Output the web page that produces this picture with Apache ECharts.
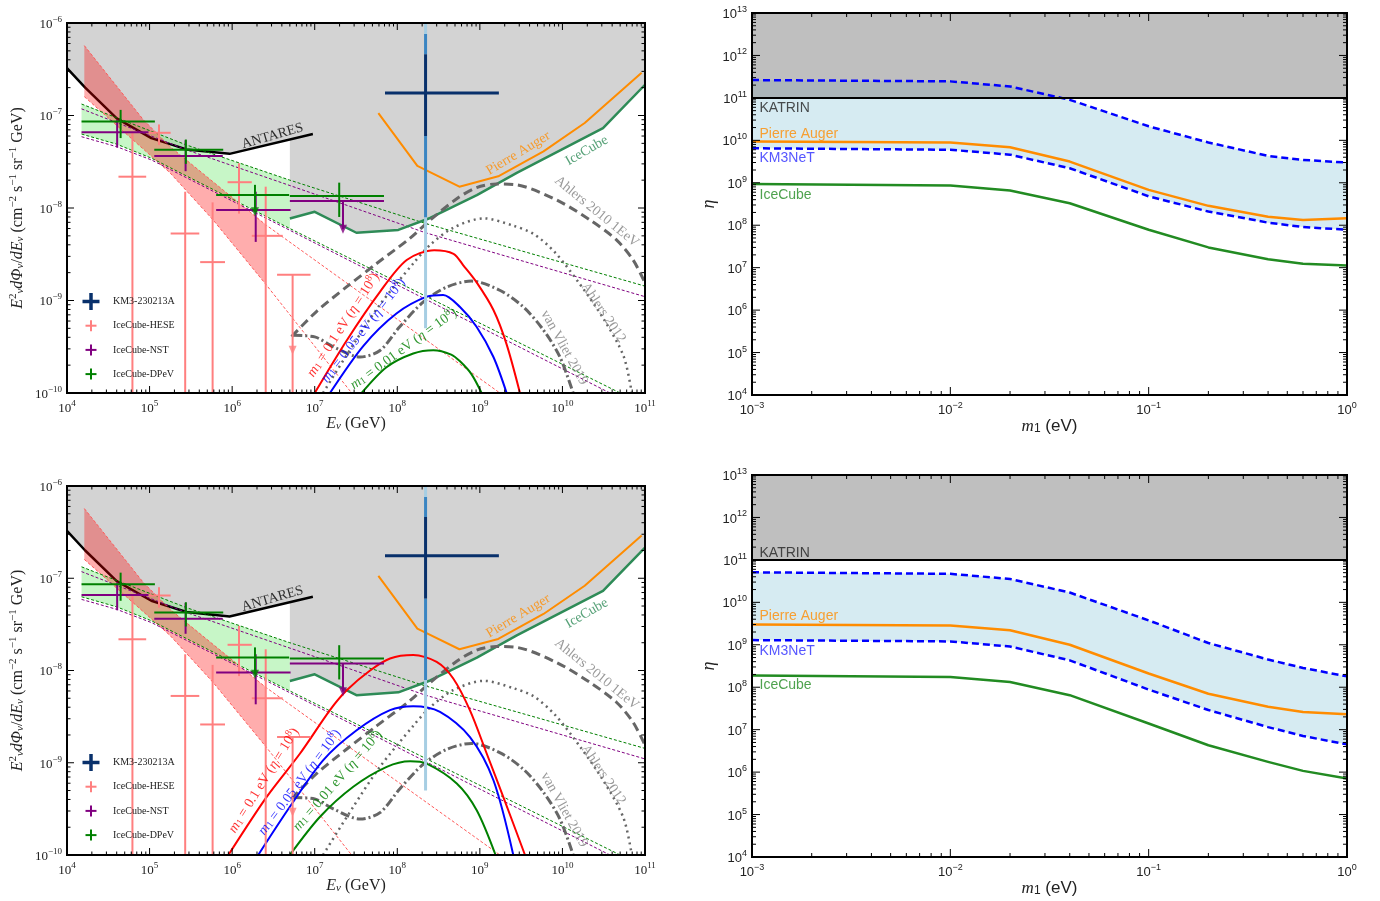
<!DOCTYPE html>
<html>
<head>
<meta charset="utf-8">
<title>Neutrino flux limits</title>
<script src="https://cdn.jsdelivr.net/npm/echarts@6/dist/echarts.min.js"></script>
<style>
html,body{margin:0;padding:0;background:#ffffff;}
#chart{width:1380px;height:901px;}
</style>
</head>
<body>
<div id="chart"></div>
<script>
// ================= DATA =================
// ---- Left panels: E_nu [GeV]  vs  E^2 dPhi/dE [cm^-2 s^-1 sr^-1 GeV]
const antares = [[1e4,3.26e-7],[1.66e4,2.0e-7],[4.0e4,9.3e-8],[1.05e5,5.7e-8],[2.8e5,4.3e-8],[9.3e5,3.85e-8],[9.5e6,6.3e-8]];
const antaresCut = [5e6,5.5e-8];
const icecubeLim = [[5e6,7.7e-9],[1e7,9.1e-9],[3.2e7,5.4e-9],[1.03e8,5.8e-9],[2.5e8,7.8e-9],[9.2e8,1.38e-8],[2.8e9,2.4e-8],[3.1e10,7.3e-8],[1e11,2.15e-7]];
const augerLim = [[5.9e7,1.06e-7],[1.75e8,2.85e-8],[5.65e8,1.7e-8],[1.67e9,2.2e-8],[5.9e9,4.1e-8],[1.86e10,8.3e-8],[9.1e10,2.9e-7]];

const dpevUpper = [[1.5e4,1.33e-7],[2.8e5,4.8e-8],[5e6,2.0e-8],[8.8e6,1.7e-8],[2.2e8,6.8e-9],[1e11,1.43e-9]];
const dpevLower = [[1.5e4,6.3e-8],[4e4,4.9e-8],[1.06e5,3.45e-8],[5e6,6.0e-9],[5e10,1.0e-10]];
const nstUpper = [[1.5e4,1.18e-7],[2.8e5,4.25e-8],[8.8e6,1.47e-8],[2.2e8,5.4e-9],[1e11,1.1e-9]];
const nstLower = [[1.5e4,5.9e-8],[4e4,4.6e-8],[1.06e5,3.3e-8],[3.76e10,1.0e-10]];
const heseUpper = [[1.62e4,5.7e-7],[8.4e4,9.0e-8],[1.77e5,4.6e-8],[2.17e6,7.4e-9],[2.6e6,6.5e-9],[1.75e9,1.0e-10]];
const heseLower = [[1.62e4,1.6e-7],[1.77e5,2.4e-8],[5.9e5,7.4e-9],[2.6e6,1.47e-9],[2.8e7,1.0e-10]];

// error crosses: [E, flux, Elow, Ehigh, fluxLow, fluxHigh]
const hesePts = [
  [6.2e4,2.18e-8,4.2e4,9.1e4,1e-10,6.5e-8],
  [1.3e5,6.5e-8,9.7e4,1.8e5,4.8e-8,8.0e-8],
  [2.7e5,5.3e-9,1.8e5,4.0e5,1e-10,1.5e-8],
  [5.8e5,2.6e-9,4.1e5,8.2e5,1e-10,1.15e-8],
  [1.21e6,1.9e-8,8.8e5,1.73e6,8.7e-9,3.05e-8],
  [2.55e6,5.0e-9,1.73e6,4.1e6,1e-10,1.7e-8],
  [5.4e6,1.9e-9,3.5e6,8.9e6,1e-10,1.9e-9]
];
const heseArrows = [[5.4e6,2.9e-10]];
const nstPts = [
  [4.05e4,6.6e-8,1.5e4,9.7e4,4.5e-8,9.0e-8],
  [2.73e5,3.65e-8,1.14e5,7.7e5,2.5e-8,5.4e-8],
  [1.93e6,9.5e-9,6.4e5,5.1e6,4.3e-9,1.5e-8],
  [2.2e7,1.19e-8,5e6,6.9e7,5.9e-9,1.19e-8]
];
const nstArrows = [[2.2e7,5.9e-9]];
const dpevPts = [
  [4.46e4,8.6e-8,1.5e4,1.16e5,5.7e-8,1.15e-7],
  [2.75e5,4.25e-8,1.14e5,7.8e5,3.0e-8,5.5e-8],
  [1.89e6,1.38e-8,6.4e5,4.9e6,9.1e-9,1.78e-8],
  [1.98e7,1.35e-8,5e6,6.9e7,8.0e-9,1.88e-8]
];
const dpevArrows = [[1.89e6,9.1e-9]];
const km3Point = [2.2e8,1.75e-7,7.1e7,1.7e9];
const km3Segments = [[1e-6,7.6e-7],[7.6e-7,4.6e-7],[4.6e-7,6.0e-8],[6.0e-8,7.9e-9],[7.9e-9,5.0e-10]];

const ahlers2010 = [[5.25e6,4.07e-10],[1.05e7,7.6e-10],[2.45e7,1.41e-9],[5.62e7,2.51e-9],[1.41e8,4.68e-9],[2.51e8,7.41e-9],[5.25e8,1.26e-8],[9.12e8,1.66e-8],[1.58e9,1.82e-8],[2.79e9,1.78e-8],[8.5e9,1.22e-8],[2.16e10,7.41e-9],[4.54e10,4.5e-9],[7.2e10,2.73e-9],[1e11,1.55e-9]];
const ahlers2012 = [[1.26e7,1.0e-10],[2.93e7,3.33e-10],[6.17e7,9.04e-10],[1.56e8,2.51e-9],[2.49e8,3.98e-9],[4.76e8,6.12e-9],[1.12e9,7.73e-9],[2.51e9,6.46e-9],[4.47e9,5.25e-9],[8.13e9,3.31e-9],[1.62e10,1.51e-9],[3.16e10,6.31e-10],[5.5e10,2.51e-10],[6.92e10,1.0e-10]];
const vanVliet = [[5.5e6,4.2e-10],[1e7,4.04e-10],[1.68e7,3.16e-10],[3.55e7,2.45e-10],[6.17e7,2.88e-10],[1.07e8,5.2e-10],[2.07e8,9.66e-10],[3.98e8,1.4e-9],[7.94e8,1.62e-9],[1.74e9,1.29e-9],[3.37e9,8.5e-10],[5.89e9,4.79e-10],[9.33e9,2.45e-10],[1.35e10,1.0e-10]];

// model curves, top panel
const redTop = [[1e7,1.0e-10],[2.44e7,3.7e-10],[6.17e7,1.24e-9],[1.3e8,2.74e-9],[2.8e8,3.5e-9],[4.8e8,3.2e-9],[6.3e8,2.4e-9],[9.1e8,1.58e-9],[1.46e9,7.9e-10],[2.1e9,3.4e-10],[3.06e9,1.0e-10]];
const blueTop = [[1.53e7,1.0e-10],[3.89e7,3.24e-10],[9.77e7,7.24e-10],[2.27e8,1.1e-9],[3.6e8,1.15e-9],[5.75e8,8.5e-10],[9.12e8,5.2e-10],[1.46e9,2.45e-10],[2.11e9,1.0e-10]];
const greenTop = [[3.7e7,1.0e-10],[7.4e7,1.9e-10],[1.56e8,2.67e-10],[2.73e8,2.9e-10],[4.5e8,2.6e-10],[5.75e8,2.2e-10],[7.9e8,1.6e-10],[1.05e9,1.0e-10]];
// model curves, bottom panel
const redBot = [[9e5,1.0e-10],[2.62e6,4.27e-10],[6.64e6,1.26e-9],[1.53e7,3.72e-9],[2.44e7,6.1e-9],[4.68e7,1.0e-8],[8.17e7,1.35e-8],[1.56e8,1.47e-8],[3.0e8,1.24e-8],[4.76e8,8.2e-9],[7.59e8,3.7e-9],[1.21e9,1.26e-9],[1.92e9,4.27e-10],[3.52e9,1.0e-10]];
const blueBot = [[2.07e6,1.0e-10],[5.0e6,3.33e-10],[1.27e7,1.07e-9],[3.22e7,2.25e-9],[8.17e7,3.72e-9],[1.56e8,4.1e-9],[3.29e8,3.56e-9],[7.59e8,1.9e-9],[1.46e9,6.46e-10],[2.54e9,1.0e-10]];
const greenBot = [[5.0e6,1.0e-10],[1.16e7,2.6e-10],[2.93e7,5.5e-10],[7.45e7,9.04e-10],[1.43e8,1.04e-9],[2.27e8,9.8e-10],[5.25e8,5.97e-10],[9.16e8,3.06e-10],[1.55e9,1.0e-10]];

// ---- Right panels: m1 [eV] vs eta
const mVals   = [0.001, 0.01, 0.02, 0.04, 0.1, 0.2, 0.4, 0.6, 1];
const km3UpTop = [2.63e11, 2.45e11, 1.86e11, 9.0e10, 2.14e10, 8.9e9, 4.3e9, 3.45e9, 3.0e9];
const augerTop = [9.4e9, 8.9e9, 6.9e9, 3.16e9, 6.8e8, 2.86e8, 1.58e8, 1.33e8, 1.46e8];
const km3LoTop = [6.5e9, 6.0e9, 4.6e9, 2.2e9, 4.8e8, 2.1e8, 1.15e8, 9.1e7, 7.8e7];
const iceTop   = [9.4e8, 8.6e8, 6.6e8, 3.3e8, 7.8e7, 3.0e7, 1.58e7, 1.23e7, 1.12e7];
const km3UpBot = [5.1e10, 4.7e10, 3.55e10, 1.7e10, 3.76e9, 1.1e9, 4.5e8, 2.85e8, 1.8e8];
const augerBot = [3.0e9, 2.86e9, 2.2e9, 1.0e9, 2.1e8, 7.0e7, 3.47e7, 2.6e7, 2.3e7];
const km3LoBot = [1.29e9, 1.2e9, 9.1e8, 4.3e8, 8.8e7, 2.9e7, 1.15e7, 7.1e6, 4.5e6];
const iceBot   = [1.9e8, 1.74e8, 1.33e8, 6.5e7, 1.4e7, 4.3e6, 1.74e6, 1.07e6, 7.1e5];
const katrinEta = 1e11;

// axis decades
const leftXDec = [4, 11], leftYDec = [-10, -6];
const rightXDec = [-3, 0], rightYDec = [4, 13];

// ================= CHART =================
const FS = '"Liberation Serif","DejaVu Serif",serif';
const FN = '"Liberation Sans","DejaVu Sans",sans-serif';
const chart = echarts.init(document.getElementById('chart'), null, {renderer:'canvas', width:1380, height:901});
const series = [];

function expLabel(v){
  const e = Math.round(Math.log10(v));
  return '{b|10}{s|' + (e < 0 ? '\u2212' + (-e) : e) + '}';
}
function axisLab(font, size, margin){
  return {formatter: expLabel, fontFamily: font, fontSize: size, color:'#222', margin: margin,
    rich: {
      b: {fontFamily: font, fontSize: size, color:'#222', verticalAlign:'bottom'},
      s: {fontFamily: font, fontSize: Math.round(size*0.72), color:'#222', verticalAlign:'bottom', padding:[0,0,Math.round(size*0.5),0]}
    }};
}
function nameRich(font, size){
  return {
    n: {fontFamily: font, fontSize: size, color:'#222', verticalAlign:'bottom'},
    i: {fontFamily: FS, fontSize: size, fontStyle:'italic', color:'#222', verticalAlign:'bottom'},
    sb: {fontFamily: font, fontSize: Math.round(size*0.68), fontStyle:'italic', color:'#222', verticalAlign:'bottom'},
    sn: {fontFamily: font, fontSize: Math.round(size*0.68), color:'#222', verticalAlign:'bottom'},
    p: {fontFamily: font, fontSize: Math.round(size*0.68), color:'#222', verticalAlign:'bottom', padding:[0,0,Math.round(size*0.45),0]}
  };
}

function L(gi, data, color, width, type, z, smooth){
  series.push({type:'line', xAxisIndex:gi, yAxisIndex:gi, data:data, symbol:'none', showSymbol:false,
    silent:true, z:z, smooth: smooth || false, animation:false,
    lineStyle:{color:color, width:width, type:type || 'solid', cap:'butt', join:'round'}});
}
function poly(gi, pts, fill, z){
  series.push({type:'custom', xAxisIndex:gi, yAxisIndex:gi, z:z, silent:true, animation:false,
    data:[pts[0]],
    renderItem: function(params, api){
      return {type:'polygon', shape:{points: pts.map(function(p){ return api.coord(p); })}, style:{fill: fill}};
    }});
}
function crosses(gi, pts, color, lw, z){
  series.push({type:'custom', xAxisIndex:gi, yAxisIndex:gi, z:z, silent:true, animation:false,
    dimensions:['x','y','xl','xh','yl','yh'], encode:{x:0, y:1},
    data: pts,
    renderItem: function(params, api){
      const x = api.value(0), y = api.value(1);
      const a = api.coord([api.value(2), y]), b = api.coord([api.value(3), y]);
      const c = api.coord([x, api.value(4)]), d = api.coord([x, api.value(5)]);
      const st = {stroke: color, lineWidth: lw};
      return {type:'group', children:[
        {type:'line', shape:{x1:a[0], y1:a[1], x2:b[0], y2:b[1]}, style: st},
        {type:'line', shape:{x1:c[0], y1:c[1], x2:d[0], y2:d[1]}, style: st}
      ]};
    }});
}
function arrows(gi, pts, color, z){
  series.push({type:'scatter', xAxisIndex:gi, yAxisIndex:gi, z:z, silent:true, animation:false,
    data: pts, symbol:'triangle', symbolRotate:180, symbolSize:[8,9], itemStyle:{color: color}});
}
function labels(gi, items, font, z){
  series.push({type:'scatter', xAxisIndex:gi, yAxisIndex:gi, z:z, silent:true, animation:false,
    symbolSize:1, itemStyle:{color:'rgba(0,0,0,0)'},
    data: items.map(function(it){
      const fs = it.fs || 14;
      return {value: it.p, label:{show:true, formatter: it.t, position: it.pos || 'inside', distance: it.d || 0,
        rotate: it.r || 0, color: it.c, fontFamily: font, fontSize: fs, align: it.align,
        rich: {
          i:{fontFamily: FS, fontStyle:'italic', fontSize: fs, color: it.c, verticalAlign:'bottom'},
          n:{fontFamily: font, fontSize: fs, color: it.c, verticalAlign:'bottom'},
          s:{fontFamily: font, fontSize: 10, color: it.c, verticalAlign:'bottom'},
          p:{fontFamily: font, fontSize: 10, color: it.c, verticalAlign:'bottom', padding:[0,0,6,0]}
        }}};
    })});
}
function ticks(gi, xd, yd, majL, minL){
  const xmin = Math.pow(10, xd[0]), ymin = Math.pow(10, yd[0]);
  series.push({type:'custom', xAxisIndex:gi, yAxisIndex:gi, z:50, silent:true, animation:false,
    data:[[xmin, ymin]],
    renderItem: function(params, api){
      const cs = params.coordSys;
      const x0 = cs.x, y0 = cs.y, w = cs.width, h = cs.height;
      const ch = [];
      const st = {stroke:'#000', lineWidth:1};
      for (let d = xd[0]; d <= xd[1]; d++){
        for (let k = 1; k <= 9; k++){
          if (d === xd[1] && k > 1) break;
          const px = api.coord([k*Math.pow(10,d), ymin])[0];
          const l = k === 1 ? majL : minL;
          ch.push({type:'line', shape:{x1:px, y1:y0+h, x2:px, y2:y0+h-l}, style:st});
          ch.push({type:'line', shape:{x1:px, y1:y0, x2:px, y2:y0+l}, style:st});
        }
      }
      for (let d = yd[0]; d <= yd[1]; d++){
        for (let k = 1; k <= 9; k++){
          if (d === yd[1] && k > 1) break;
          const py = api.coord([xmin, k*Math.pow(10,d)])[1];
          const l = k === 1 ? majL : minL;
          ch.push({type:'line', shape:{x1:x0, y1:py, x2:x0+l, y2:py}, style:st});
          ch.push({type:'line', shape:{x1:x0+w, y1:py, x2:x0+w-l, y2:py}, style:st});
        }
      }
      ch.push({type:'rect', shape:{x:x0, y:y0, width:w, height:h}, style:{fill:'none', stroke:'#000', lineWidth:2}});
      return {type:'group', children: ch};
    }});
}

const mRich = function(mass){ return '{i|m}{s|1}{n| = ' + mass + ' eV (}{i|\u03b7}{n| = 10}{p|8}{n|)}'; };

function buildLeft(gi, redM, blueM, greenM, mlab){
  poly(gi, antares.slice(0,6).concat([antaresCut], icecubeLim, [[1e11,1e-6],[1e4,1e-6]]), '#d3d3d3', 1);
  poly(gi, dpevUpper.slice(0,3).concat(dpevLower.slice(0,4).reverse()), 'rgba(144,238,144,0.5)', 2);
  L(gi, antares, '#000000', 2.5, 'solid', 3);
  poly(gi, heseUpper.slice(0,5).concat(heseLower.slice(0,4).reverse()), 'rgba(255,0,0,0.32)', 4);
  L(gi, heseUpper, '#ff5a5a', 1, [3,2], 5);
  L(gi, heseLower, '#ff5a5a', 1, [3,2], 5);
  L(gi, dpevUpper, '#008000', 1, [3,2], 5);
  L(gi, dpevLower, '#008000', 1, [3,2], 5);
  L(gi, nstUpper, '#800080', 1, [3,2], 5);
  L(gi, nstLower, '#800080', 1, [3,2], 5);
  L(gi, icecubeLim, '#2e8b57', 2.5, 'solid', 6);
  L(gi, augerLim, '#ff8c00', 2, 'solid', 6);
  L(gi, ahlers2010, '#666666', 3, [9,5], 6, 0.3);
  L(gi, ahlers2012, '#666666', 2.5, [2,4], 6, 0.3);
  L(gi, vanVliet, '#666666', 3, [9,3,2,3], 6, 0.3);
  L(gi, redM, '#ff0000', 2, 'solid', 7, 0.3);
  L(gi, blueM, '#0000ff', 2, 'solid', 7, 0.3);
  L(gi, greenM, '#008000', 2, 'solid', 7, 0.3);
  crosses(gi, hesePts, '#ff7f7f', 2, 8);
  arrows(gi, heseArrows, '#ff7f7f', 8);
  crosses(gi, nstPts, '#800080', 2, 8);
  arrows(gi, nstArrows, '#800080', 8);
  crosses(gi, dpevPts, '#008000', 2, 8);
  arrows(gi, dpevArrows, '#008000', 8);
  // KM3 event
  const segCol = ['#a6cee3','#3a85c2','#08306b','#3a85c2','#a6cee3'];
  km3Segments.forEach(function(s, i){ L(gi, [[km3Point[0], s[0]],[km3Point[0], s[1]]], segCol[i], 3, 'solid', 9); });
  L(gi, [[km3Point[2], km3Point[1]],[km3Point[3], km3Point[1]]], '#08306b', 3, 'solid', 9);
  labels(gi, [
    {t:'ANTARES', p:[3.08e6,6.0e-8], r:16, c:'#000000'},
    {t:'Pierre Auger', p:[2.92e9,3.9e-8], r:31, c:'#ff8c00'},
    {t:'IceCube', p:[1.97e10,4.17e-8], r:30, c:'#2e8b57'},
    {t:'Ahlers 2010 1EeV', p:[2.6e10,9.1e-9], r:-39, c:'#808080'},
    {t:'Ahlers 2012', p:[3.13e10,7.4e-10], r:-56, c:'#808080'},
    {t:'van Vliet 2019', p:[1.05e10,3.1e-10], r:-61, c:'#808080'},
    {t:mRich('0.1'), p:mlab[0].p, r:mlab[0].r, c:'#ff0000'},
    {t:mRich('0.05'), p:mlab[1].p, r:mlab[1].r, c:'#0000ff'},
    {t:mRich('0.01'), p:mlab[2].p, r:mlab[2].r, c:'#008000'}
  ], FS, 10);
  ticks(gi, leftXDec, leftYDec, 7, 3.5);
}

function buildRight(gi, up, au, lo, ic, ly){
  const upP = mVals.map(function(m,i){ return [m, up[i]]; });
  const auP = mVals.map(function(m,i){ return [m, au[i]]; });
  const loP = mVals.map(function(m,i){ return [m, lo[i]]; });
  const icP = mVals.map(function(m,i){ return [m, ic[i]]; });
  poly(gi, upP.concat(loP.slice().reverse()), 'rgba(173,216,230,0.5)', 1);
  poly(gi, [[1e-3,katrinEta],[1,katrinEta],[1,1e13],[1e-3,1e13]], 'rgba(128,128,128,0.5)', 2);
  L(gi, [[1e-3,katrinEta],[1,katrinEta]], '#000000', 2, 'solid', 6);
  L(gi, upP, '#0000ff', 2.5, [7,4], 5);
  L(gi, loP, '#0000ff', 2.5, [7,4], 5);
  L(gi, auP, '#ff8c00', 2.5, 'solid', 5);
  L(gi, icP, '#228b22', 2.5, 'solid', 5);
  labels(gi, [
    {t:'KATRIN', p:[1e-3, ly[0]], c:'#222222', pos:'right', d:7, fs:14},
    {t:'Pierre Auger', p:[1e-3, ly[1]], c:'#ff8c00', pos:'right', d:7, fs:14},
    {t:'KM3NeT', p:[1e-3, ly[2]], c:'#2b2bff', pos:'right', d:7, fs:14},
    {t:'IceCube', p:[1e-3, ly[3]], c:'#228b22', pos:'right', d:7, fs:14}
  ], FN, 10);
  ticks(gi, rightXDec, rightYDec, 8, 4);
}

buildLeft(0, redTop, blueTop, greenTop, [
  {p:[2.17e7,5.5e-10], r:57}, {p:[3.8e7,4.8e-10], r:52}, {p:[1.17e8,3.05e-10], r:36}]);
buildRight(1, km3UpTop, augerTop, km3LoTop, iceTop, [5.75e10, 1.43e10, 3.8e9, 5.2e8]);
buildLeft(2, redBot, blueBot, greenBot, [
  {p:[2.37e6,6.5e-10], r:58}, {p:[6.46e6,6.2e-10], r:53}, {p:[1.86e7,6.5e-10], r:49}]);
buildRight(3, km3UpBot, augerBot, km3LoBot, iceBot, [1.48e11, 4.8e9, 7.1e8, 1.15e8]);

const grids = [
  {left:67, top:23, width:578, height:370},
  {left:752, top:13, width:595, height:382},
  {left:67, top:486, width:578, height:369},
  {left:752, top:475, width:595, height:382}
].map(function(g){ return Object.assign({containLabel:false, outerBoundsMode:'none', show:false}, g); });

const leftYName = '{i|E}{p|2}{sb|\u03bd}{i|d\u03a6}{sb|\u03bd}{n|/}{i|dE}{sb|\u03bd}{n| (cm}{p|\u22122}{n| s}{p|\u22121}{n| sr}{p|\u22121}{n| GeV)}';
function xAx(gi, left){
  return {gridIndex:gi, type:'log', logBase:10,
    min: left ? 1e4 : 1e-3, max: left ? 1e11 : 1, splitNumber: left ? 7 : 3,
    axisLine:{show:false}, axisTick:{show:false}, splitLine:{show:false}, minorTick:{show:false},
    axisLabel: axisLab(left ? FS : FN, left ? 13 : 13, left ? 6 : 6),
    name: left ? '{i|E}{sb|\u03bd}{n| (GeV)}' : '{i|m}{sn|1}{n| (eV)}',
    nameLocation:'middle', nameGap: left ? 19 : 22,
    nameTextStyle:{fontFamily: left ? FS : FN, fontSize: left ? 16 : 17, color:'#222', rich: nameRich(left ? FS : FN, left ? 16 : 17)}};
}
function yAx(gi, left){
  return {gridIndex:gi, type:'log', logBase:10,
    min: left ? 1e-10 : 1e4, max: left ? 1e-6 : 1e13, splitNumber: left ? 4 : 9,
    axisLine:{show:false}, axisTick:{show:false}, splitLine:{show:false}, minorTick:{show:false},
    axisLabel: axisLab(left ? FS : FN, 13, 5),
    name: left ? leftYName : '{i|\u03b7}',
    nameLocation:'middle', nameGap: left ? 41 : 32, nameRotate: 90,
    nameTextStyle:{fontFamily: left ? FS : FN, fontSize: left ? 16 : 18, color:'#222', rich: nameRich(left ? FS : FN, left ? 16 : 18)}};
}

// legends (left panels)
const legendRows = [
  {name:'KM3-230213A', color:'#08306b', size:17, lw:3.5},
  {name:'IceCube-HESE', color:'#ff7f7f', size:11, lw:2},
  {name:'IceCube-NST', color:'#800080', size:11, lw:2},
  {name:'IceCube-DPeV', color:'#008000', size:11, lw:2}
];
function legendGraphic(y0){
  const els = [];
  legendRows.forEach(function(r, i){
    const y = y0 + i*24.2, cx = 91;
    els.push({type:'line', shape:{x1:cx-r.size/2, y1:y, x2:cx+r.size/2, y2:y}, style:{stroke:r.color, lineWidth:r.lw}, z:60});
    els.push({type:'line', shape:{x1:cx, y1:y-r.size/2, x2:cx, y2:y+r.size/2}, style:{stroke:r.color, lineWidth:r.lw}, z:60});
    els.push({type:'text', x:113, y:y, style:{text:r.name, fontFamily:FS, fontSize:10, fill:'#222', align:'left', verticalAlign:'middle'}, z:60});
  });
  return els;
}

chart.setOption({
  animation:false,
  backgroundColor:'#ffffff',
  grid: grids,
  xAxis: [xAx(0,true), xAx(1,false), xAx(2,true), xAx(3,false)],
  yAxis: [yAx(0,true), yAx(1,false), yAx(2,true), yAx(3,false)],
  series: series,
  graphic: legendGraphic(301.5).concat(legendGraphic(762.5))
});
</script>
</body>
</html>
